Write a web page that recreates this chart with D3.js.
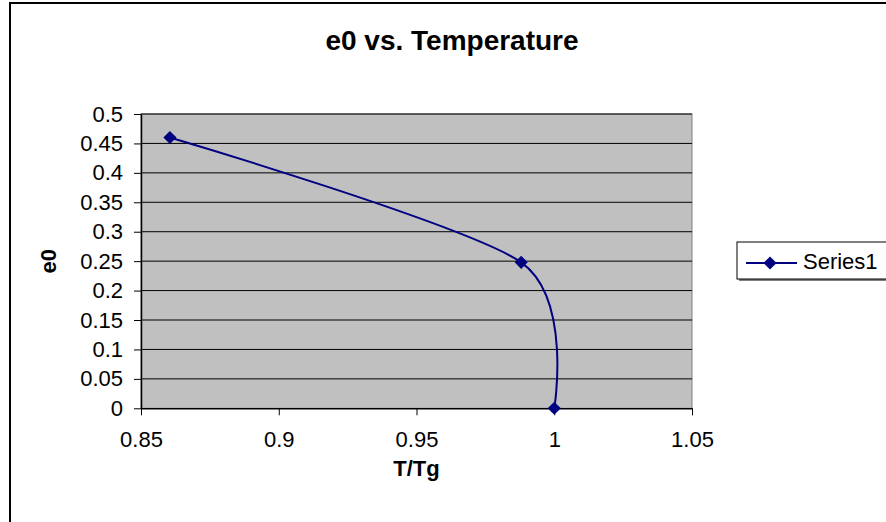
<!DOCTYPE html>
<html>
<head>
<meta charset="utf-8">
<script src="https://cdn.jsdelivr.net/npm/d3@7"></script>
<style>
  body { margin: 0; background: #fff; }
  svg text { font-family: Arial, "Liberation Sans", sans-serif; }
</style>
</head>
<body>
<div id="container"></div>
<script>
// Données
const ratioT = [0.8605, 0.988, 1.0];
const e0 = [0.46, 0.248, 0];
const xTicks = [0.85, 0.9, 0.95, 1, 1.05];
const yTicks = [0, 0.05, 0.1, 0.15, 0.2, 0.25, 0.3, 0.35, 0.4, 0.45, 0.5];
const seriesName = "Series1";

const width = 886;
const height = 522;

// Zone du graphique
const plot = { left: 141, right: 692, top: 114, bottom: 408.3 };

const x = d3.scaleLinear().domain([0.85, 1.05]).range([plot.left, plot.right]);
const y = d3.scaleLinear().domain([0, 0.5]).range([plot.bottom, plot.top]);

const svg = d3
  .select("#container")
  .append("svg")
  .attr("width", width)
  .attr("height", height);

// Cadre du graphique
svg
  .append("rect")
  .attr("x", 10)
  .attr("y", 3)
  .attr("width", 885)
  .attr("height", 530)
  .attr("fill", "#fff")
  .attr("stroke", "#000")
  .attr("stroke-width", 2);

// Titre
svg
  .append("text")
  .attr("x", 452)
  .attr("y", 50)
  .attr("text-anchor", "middle")
  .attr("font-size", 28)
  .attr("font-weight", "bold")
  .text("e0 vs. Temperature");

// Fond gris
svg
  .append("rect")
  .attr("x", plot.left)
  .attr("y", plot.top)
  .attr("width", plot.right - plot.left)
  .attr("height", plot.bottom - plot.top)
  .attr("fill", "#c0c0c0")
  .attr("stroke", "#808080")
  .attr("stroke-width", 1);

// Lignes de grille
svg
  .append("g")
  .selectAll("line")
  .data(yTicks.filter((d) => d > 0))
  .join("line")
  .attr("x1", plot.left)
  .attr("x2", plot.right)
  .attr("y1", (d) => y(d))
  .attr("y2", (d) => y(d))
  .attr("stroke", "#000")
  .attr("stroke-width", 1);

// Axes
const yAxis = svg
  .append("g")
  .attr("transform", `translate(${plot.left},0)`)
  .call(
    d3.axisLeft(y).tickValues(yTicks).tickFormat((d) => String(d)).tickSize(7).tickSizeOuter(0).tickPadding(11)
  );

const xAxis = svg
  .append("g")
  .attr("transform", `translate(0,${plot.bottom})`)
  .call(
    d3.axisBottom(x).tickValues(xTicks).tickFormat((d) => String(d)).tickSize(7).tickSizeOuter(0).tickPadding(16)
  );

[yAxis, xAxis].forEach((a) => {
  a.select(".domain").attr("stroke", "#000").attr("stroke-width", 1.5);
  a.selectAll(".tick line").attr("stroke", "#000");
  a.selectAll(".tick text")
    .attr("font-family", "Arial, 'Liberation Sans', sans-serif")
    .attr("font-size", 22)
    .attr("fill", "#000");
});

// Titres des axes
svg
  .append("text")
  .attr("transform", `translate(56,${(plot.top + plot.bottom) / 2}) rotate(-90)`)
  .attr("text-anchor", "middle")
  .attr("font-size", 22)
  .attr("font-weight", "bold")
  .text("e0");

svg
  .append("text")
  .attr("x", (plot.left + plot.right) / 2)
  .attr("y", 476)
  .attr("text-anchor", "middle")
  .attr("font-size", 22)
  .attr("font-weight", "bold")
  .text("T/Tg");

// Courbe lissée
const points = ratioT.map((d, i) => [d, e0[i]]);
const line = d3
  .line()
  .x((d) => x(d[0]))
  .y((d) => y(d[1]))
  .curve(d3.curveCardinal.tension(0.2));

svg
  .append("path")
  .attr("d", line(points))
  .attr("fill", "none")
  .attr("stroke", "#000080")
  .attr("stroke-width", 2);

// Marqueurs en losange
const diamond = d3.symbol().type(d3.symbolDiamond2).size(110);
svg
  .append("g")
  .selectAll("path")
  .data(points)
  .join("path")
  .attr("d", diamond)
  .attr("transform", (d) => `translate(${x(d[0])},${y(d[1])})`)
  .attr("fill", "#000080");

// Légende
const legend = svg.append("g").attr("transform", "translate(737,242)");
legend
  .append("rect")
  .attr("x", 2)
  .attr("y", 2)
  .attr("width", 170)
  .attr("height", 37)
  .attr("fill", "#808080");
legend
  .append("rect")
  .attr("width", 170)
  .attr("height", 37)
  .attr("fill", "#fff")
  .attr("stroke", "#000")
  .attr("stroke-width", 1);
legend
  .append("line")
  .attr("x1", 9)
  .attr("x2", 60)
  .attr("y1", 21)
  .attr("y2", 21)
  .attr("stroke", "#000080")
  .attr("stroke-width", 2);
legend
  .append("path")
  .attr("d", diamond)
  .attr("transform", "translate(33,21)")
  .attr("fill", "#000080");
legend
  .append("text")
  .attr("x", 66)
  .attr("y", 27)
  .attr("font-size", 22)
  .text(seriesName);
</script>
</body>
</html>
